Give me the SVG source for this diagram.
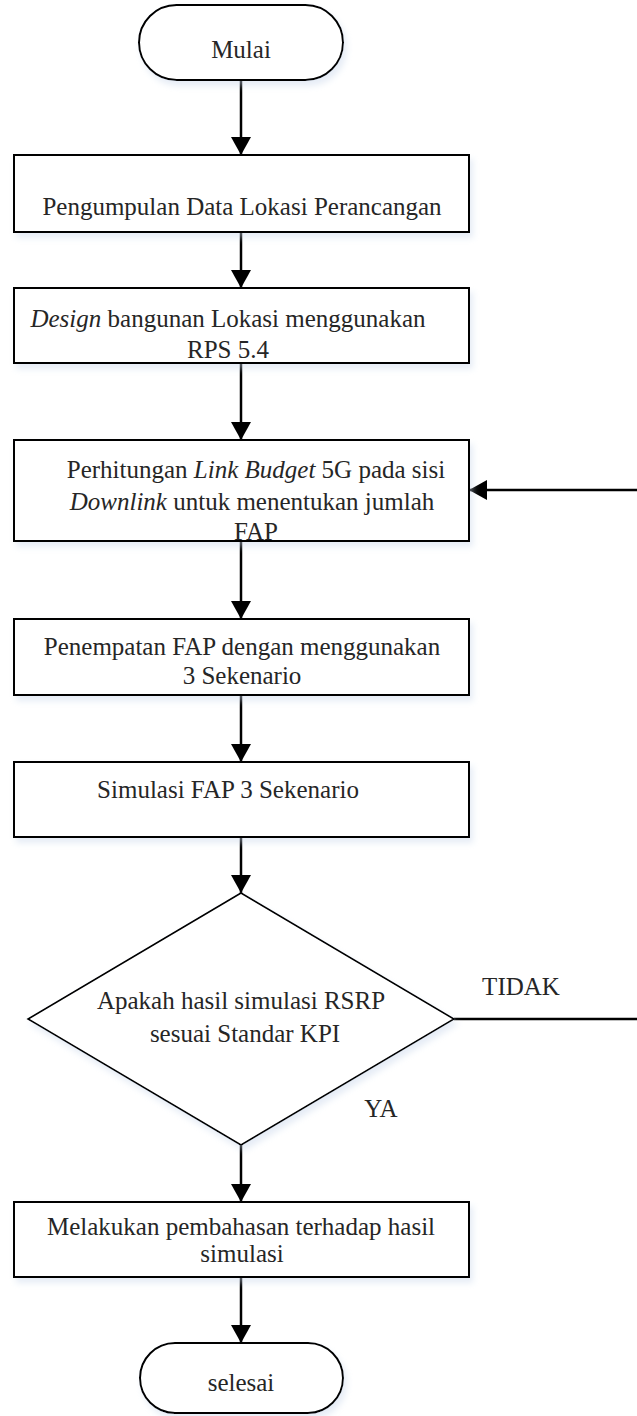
<svg xmlns="http://www.w3.org/2000/svg" width="637" height="1416" viewBox="0 0 637 1416">
<style>
.shape{fill:#ffffff;stroke:#000;stroke-width:2}
.dia{fill:#ffffff;stroke:#000;stroke-width:1.6}
.t{font-family:"Liberation Serif","Times New Roman",serif;font-size:25px;fill:#262626;text-anchor:middle}
.i{font-style:italic}
.c{fill:none;stroke:#000;stroke-width:2.5}
</style>
<defs>
<filter id="sh" x="-10%" y="-10%" width="125%" height="130%">
<feDropShadow dx="3" dy="5" stdDeviation="3" flood-color="#c8d6ea" flood-opacity="0.45"/>
</filter>
<marker id="ah" markerUnits="userSpaceOnUse" markerWidth="20" markerHeight="20" viewBox="0 0 18 20" refX="18" refY="10" orient="auto">
<path d="M0,0 L18,10 L0,20 Z" fill="#000"/>
</marker>
</defs>
<g id="connectors">
<line class="c" x1="241" y1="80" x2="241" y2="155" marker-end="url(#ah)"/>
<line class="c" x1="241" y1="232" x2="241" y2="288" marker-end="url(#ah)"/>
<line class="c" x1="241" y1="363" x2="241" y2="440" marker-end="url(#ah)"/>
<line class="c" x1="241" y1="541" x2="241" y2="619" marker-end="url(#ah)"/>
<line class="c" x1="241" y1="695" x2="241" y2="762" marker-end="url(#ah)"/>
<line class="c" x1="241" y1="837" x2="241" y2="893" marker-end="url(#ah)"/>
<line class="c" x1="241" y1="1145" x2="241" y2="1202" marker-end="url(#ah)"/>
<line class="c" x1="241" y1="1277" x2="241" y2="1343" marker-end="url(#ah)"/>
<line class="c" x1="637" y1="490" x2="469" y2="490" marker-end="url(#ah)"/>
<line class="c" x1="454" y1="1019" x2="637" y2="1019"/>
</g>
<g id="mulai">
<rect class="shape" filter="url(#sh)" x="139" y="5" width="204" height="75" rx="37.5"/>
<text class="t" x="241" y="58">Mulai</text>
</g>
<g id="pengumpulan">
<rect class="shape" filter="url(#sh)" x="14" y="155" width="455" height="77"/>
<text class="t" x="242" y="215">Pengumpulan Data Lokasi Perancangan</text>
</g>
<g id="design">
<rect class="shape" filter="url(#sh)" x="14" y="288" width="455" height="75"/>
<text class="t" x="228" y="327"><tspan class="i">Design</tspan> bangunan Lokasi menggunakan</text>
<text class="t" x="228" y="358">RPS 5.4</text>
</g>
<g id="perhitungan">
<rect class="shape" filter="url(#sh)" x="14" y="440" width="455" height="101"/>
<text class="t" x="256" y="478">Perhitungan <tspan class="i">Link Budget</tspan> 5G pada sisi</text>
<text class="t" x="252" y="510"><tspan class="i">Downlink</tspan> untuk menentukan jumlah</text>
<text class="t" x="256" y="540">FAP</text>
</g>
<g id="penempatan">
<rect class="shape" filter="url(#sh)" x="14" y="619" width="455" height="76"/>
<text class="t" x="242" y="655">Penempatan FAP dengan menggunakan</text>
<text class="t" x="242" y="684">3 Sekenario</text>
</g>
<g id="simulasi">
<rect class="shape" filter="url(#sh)" x="14" y="762" width="455" height="75"/>
<text class="t" x="228" y="798">Simulasi FAP 3 Sekenario</text>
</g>
<g id="keputusan">
<polygon class="dia" filter="url(#sh)" points="241,893 454,1019 241,1145 28,1019"/>
<text class="t" x="241" y="1009">Apakah hasil simulasi RSRP</text>
<text class="t" x="245" y="1042">sesuai Standar KPI</text>
<text class="t" x="521" y="995">TIDAK</text>
<text class="t" x="381" y="1117">YA</text>
</g>
<g id="melakukan">
<rect class="shape" filter="url(#sh)" x="14" y="1202" width="455" height="75"/>
<text class="t" x="241" y="1235">Melakukan pembahasan terhadap hasil</text>
<text class="t" x="242" y="1262">simulasi</text>
</g>
<g id="selesai">
<rect class="shape" filter="url(#sh)" x="140" y="1343" width="203" height="70" rx="35"/>
<text class="t" x="241" y="1391">selesai</text>
</g>
</svg>
